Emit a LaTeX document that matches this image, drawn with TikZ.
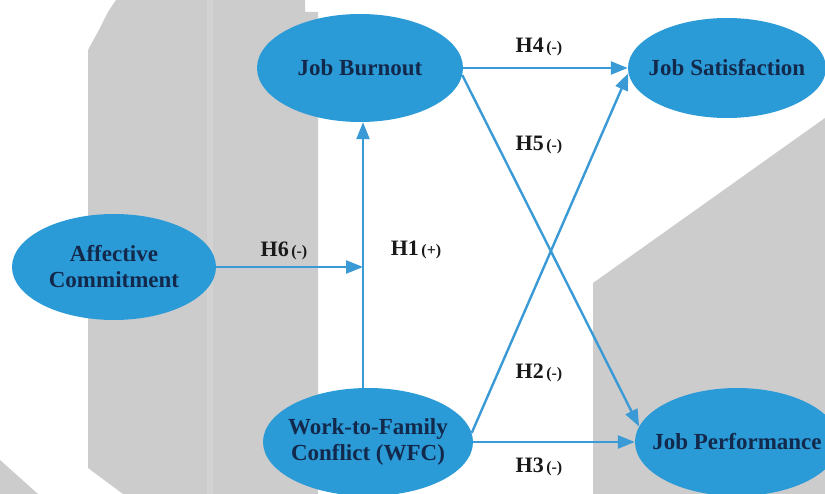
\documentclass[tikz,border=0pt]{standalone}
\usepackage{fontspec}
\setmainfont{Liberation Serif}
\usetikzlibrary{shapes.geometric,arrows.meta}
\definecolor{bluefill}{HTML}{2B9BD8}
\definecolor{lineblue}{HTML}{3A9AD6}
\definecolor{navy}{HTML}{13294B}
\definecolor{bggray}{HTML}{CCCCCC}
\definecolor{bgstripe}{HTML}{D2D2D2}
\newcommand\hyplabel[2]{{\fontsize{22}{24}\selectfont\bfseries #1}\ {\fontsize{16}{18}\selectfont\bfseries #2}}
\tikzset{
  construct/.style={ellipse, fill=bluefill, inner xsep=-30pt, inner ysep=0pt, text=navy,
    font=\fontsize{23}{26}\selectfont\bfseries, align=center},
  arr/.style={draw=lineblue, line width=2.4pt,
    -{Triangle[length=17pt,width=13pt]}},
  hyp/.style={text=black!90, inner sep=0pt}
}
\begin{document}
\begin{tikzpicture}[x=1pt,y=-1pt]
\useasboundingbox (0,0) rectangle (825,494);
\clip (0,0) rectangle (825,494);
% background
\fill[white] (0,0) rectangle (825,494);
\fill[bggray] (116,0) -- (305,0) -- (305,12) -- (318,12) -- (318,494) -- (123,494)
  -- (88,468) -- (88,50) -- (100,28) -- (108,12) -- cycle;
\fill[bgstripe] (207,0) rectangle (213,494);
\fill[bggray] (0,460) -- (38,494) -- (0,494) -- cycle;
\fill[bggray] (825,118) -- (593,283) -- (593,494) -- (825,494) -- cycle;
% nodes
\node[construct, minimum width=206pt, minimum height=108pt] (jb) at (360,68) {Job Burnout};
\node[construct, minimum width=198pt, minimum height=100pt] (js) at (727,68) {Job Satisfaction};
\node[construct, minimum width=204pt, minimum height=106pt] (ac) at (114,267) {Affective\\Commitment};
\node[construct, minimum width=210pt, minimum height=108pt] (wfc) at (368,442) {Work-to-Family\\Conflict (WFC)};
\node[construct, minimum width=204pt, minimum height=108pt] (jp) at (737,442) {Job Performance};
\coordinate (mid) at (363,267);
% connectors
\draw[arr] (jb.east) -- (js.west);
\draw[arr] (jb.-4) -- (jp.171);
\draw[arr] (wfc.5) -- (js.-177);
\draw[arr] (wfc.east) -- (jp.west);
\draw[arr] (wfc.north -| mid) -- (jb.south -| mid);
\draw[arr] (ac.east) -- (mid);
% labels
\node[hyp] (h4) at (539,47) {\hyplabel{H4}{(-)}};
\node[hyp] (h5) at (539,145) {\hyplabel{H5}{(-)}};
\node[hyp] (h6) at (284,251) {\hyplabel{H6}{(-)}};
\node[hyp] (h1) at (416,250) {\hyplabel{H1}{(+)}};
\node[hyp] (h2) at (539,373) {\hyplabel{H2}{(-)}};
\node[hyp] (h3) at (539,467) {\hyplabel{H3}{(-)}};
\end{tikzpicture}
\end{document}
